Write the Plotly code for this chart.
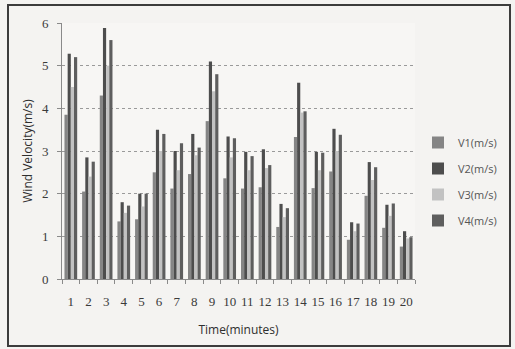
import plotly.graph_objects as go

minutes = [str(i) for i in range(1, 21)]

v1 = [3.85, 2.05, 4.3, 1.35, 1.4, 2.5, 2.12, 2.46, 3.7, 2.36, 2.12, 2.15, 1.22, 3.33, 2.13, 2.52, 0.92, 1.95, 1.2, 0.76]
v2 = [5.28, 2.85, 5.88, 1.8, 2.0, 3.5, 3.0, 3.4, 5.1, 3.34, 2.98, 3.04, 1.76, 4.6, 2.98, 3.52, 1.33, 2.74, 1.74, 1.12]
v3 = [4.5, 2.4, 5.0, 1.55, 1.7, 3.0, 2.55, 2.9, 4.4, 2.85, 2.55, 2.6, 1.45, 3.9, 2.55, 3.0, 1.12, 2.32, 1.48, 0.95]
v4 = [5.2, 2.75, 5.6, 1.72, 2.0, 3.4, 3.18, 3.08, 4.8, 3.3, 2.88, 2.67, 1.66, 3.93, 2.96, 3.38, 1.3, 2.62, 1.77, 0.98]

series = [
    ("V1(m/s)", v1, "#858585"),
    ("V2(m/s)", v2, "#4d4d4d"),
    ("V3(m/s)", v3, "#c2c2c2"),
    ("V4(m/s)", v4, "#5e5e5e"),
]

fig = go.Figure()
for name, vals, color in series:
    fig.add_trace(go.Bar(
        x=minutes, y=vals, name=name, legendgroup=name,
        marker=dict(color=color, line=dict(width=0)),
    ))

W, H = 515, 349
ml, mr, mt, mb = 62, 100, 23, 70
pw, ph = W - ml - mr, H - mt - mb

def px_x(p):
    return (p - ml) / pw

def px_y(p):
    return (H - mb - p) / ph

fig.update_layout(
    width=W, height=H,
    margin=dict(l=ml, r=mr, t=mt, b=mb, autoexpand=False),
    paper_bgcolor="#f4f3f1",
    plot_bgcolor="#f7f6f4",
    barmode="group",
    bargap=0.28,
    bargroupgap=0,
    font=dict(family="Liberation Serif", size=12, color="#3a3a3a"),
    legend=dict(
        x=px_x(418), y=px_y(128), xanchor="left", yanchor="top",
        font=dict(family="Open Sans", size=11, color="#555"),
        tracegroupgap=7, bgcolor="rgba(0,0,0,0)", itemwidth=30,
    ),
    xaxis=dict(
        type="category",
        showgrid=False,
        showline=True, linecolor="#8a8a8a", linewidth=1,
        ticks="outside", tickson="boundaries", ticklen=4, tickcolor="#8a8a8a",
        tickangle=0, ticklabelstandoff=10,
        tickfont=dict(family="Liberation Serif", size=13, color="#3a3a3a"),
        title=dict(text="Time(minutes)", font=dict(family="Open Sans", size=12, color="#2e2e2e"), standoff=18),
    ),
    yaxis=dict(
        range=[0, 6], dtick=1,
        showgrid=True, gridcolor="#9a9a9a", griddash="dot", gridwidth=1,
        showline=True, linecolor="#8a8a8a", linewidth=1,
        ticks="outside", ticklen=4, tickcolor="#8a8a8a",
        ticklabelstandoff=6,
        zeroline=False,
        tickfont=dict(family="Liberation Serif", size=13, color="#3a3a3a"),
        title=dict(text="Wind Velocity(m/s)", font=dict(family="Open Sans", size=12, color="#2e2e2e"), standoff=6),
    ),
    shapes=[
        dict(type="rect", xref="paper", yref="paper",
             x0=px_x(8), x1=px_x(510), y0=px_y(346), y1=px_y(5),
             line=dict(color="#3c3c3c", width=2), fillcolor="rgba(0,0,0,0)", layer="below"),
    ],
)

fig.write_html("out.html")
